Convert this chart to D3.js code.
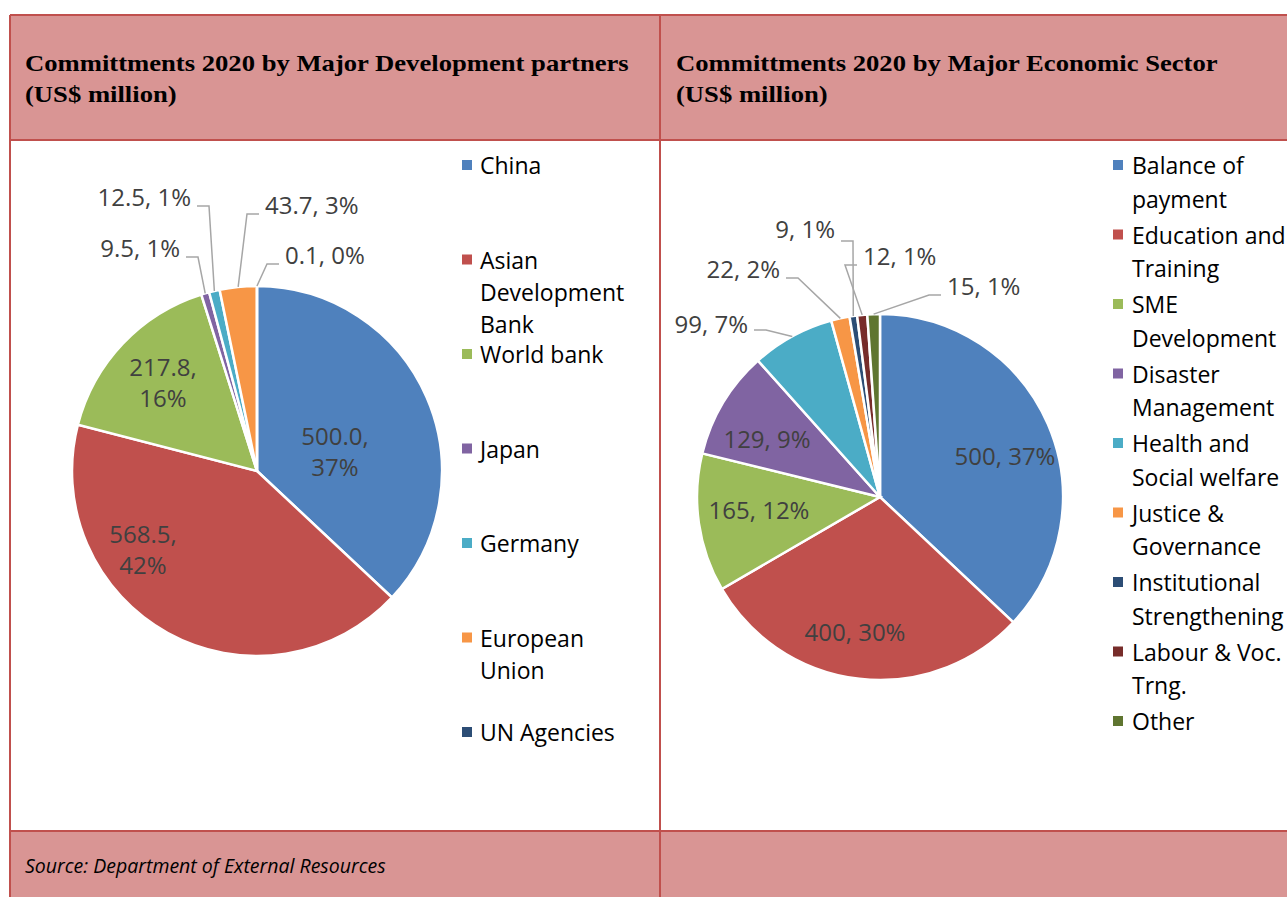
<!DOCTYPE html>
<html>
<head>
<meta charset="utf-8">
<script src="https://cdn.jsdelivr.net/npm/d3@7"></script>
<style>
  body { margin: 0; background: #fff; }
  svg { display: block; }
</style>
</head>
<body>
<svg id="chart"></svg>
<script>
// partners pie
var partners = ["China", "Asian Development Bank", "World bank", "Japan", "Germany", "European Union", "UN Agencies"]
var partnerValues = [500.0, 568.5, 217.8, 9.5, 12.5, 43.7, 0.1]
var partnerPct = ["37%", "42%", "16%", "1%", "1%", "3%", "0%"]
var partnerLegend = [["China"], ["Asian", "Development", "Bank"], ["World bank"], ["Japan"], ["Germany"], ["European", "Union"], ["UN Agencies"]]

// sector pie
var sectors = ["Balance of payment", "Education and Training", "SME Development", "Disaster Management",
  "Health and Social welfare", "Justice & Governance", "Institutional Strengthening", "Labour & Voc. Trng.", "Other"]
var sectorValues = [500, 400, 165, 129, 99, 22, 9, 12, 15]
var sectorPct = ["37%", "30%", "12%", "9%", "7%", "2%", "1%", "1%", "1%"]
var sectorLegend = [["Balance of", "payment"], ["Education and", "Training"], ["SME", "Development"], ["Disaster", "Management"],
  ["Health and", "Social welfare"], ["Justice &", "Governance"], ["Institutional", "Strengthening"], ["Labour & Voc.", "Trng."], ["Other"]]

var colors = ["#4F81BD", "#C0504D", "#9BBB59", "#8064A2", "#4BACC6", "#F79646", "#2C4D75", "#772C2A", "#5F7530"]

var width = 1287, height = 897
var border = "#C0504D", headFill = "#D99594"

var svg = d3.select("#chart").attr("width", width).attr("height", height)

// table background
svg.append("rect").attr("x", 10).attr("y", 15).attr("width", 1290).attr("height", 125).attr("fill", headFill)
svg.append("rect").attr("x", 10).attr("y", 831).attr("width", 1290).attr("height", 80).attr("fill", headFill)
var lines = [
  [10, 15, 1300, 15], [10, 140, 1300, 140], [10, 831, 1300, 831],
  [10, 15, 10, 900], [660, 15, 660, 900]
]
svg.append("g").selectAll("line").data(lines).enter().append("line")
  .attr("x1", d => d[0]).attr("y1", d => d[1]).attr("x2", d => d[2]).attr("y2", d => d[3])
  .attr("stroke", border).attr("stroke-width", 2)

// titles (Times is wider than the source font, so stretch a little)
function title(x, l1) {
  var t = svg.append("text")
    .attr("transform", "translate(" + x + ",71) scale(1.11,1)")
    .style("font-family", "'Liberation Serif', 'Times New Roman', serif")
    .style("font-weight", "bold").style("font-size", "24px").attr("fill", "#000")
  t.append("tspan").attr("x", 0).text(l1)
  t.append("tspan").attr("x", 0).attr("dy", 31).text("(US$ million)")
}
title(25, "Committments 2020 by Major Development partners")
title(676, "Committments 2020 by Major Economic Sector")

svg.append("text").attr("x", 25).attr("y", 873)
  .style("font-family", "'Open Sans', sans-serif").style("font-style", "italic").style("font-size", "19.5px")
  .attr("fill", "#000").text("Source: Department of External Resources")

var labelFont = "'Open Sans', sans-serif"

function drawPie(cfg) {
  var pie = d3.pie().sort(null).value(d => d)
  var arcs = pie(cfg.values)
  var arc = d3.arc().innerRadius(0).outerRadius(cfg.r)
  var g = svg.append("g").attr("transform", "translate(" + cfg.cx + "," + cfg.cy + ")")

  g.selectAll("path").data(arcs).enter().append("path")
    .attr("d", arc)
    .attr("fill", (d, i) => colors[i])
    .attr("stroke", "#fff").attr("stroke-width", 2.5)

  arcs.forEach(function(a, i) {
    var lab = cfg.labels[i]
    var txt = cfg.values[i].toFixed(cfg.digits)
    var t = g.append("text").attr("fill", "#404040")
      .style("font-family", labelFont).style("font-size", "24px")
    if (lab.inside) {
      t.attr("text-anchor", "middle")
      if (lab.wrap) {
        t.append("tspan").attr("x", lab.x).attr("y", lab.y - 7).text(txt + ",")
        t.append("tspan").attr("x", lab.x).attr("y", lab.y + 24).text(cfg.pct[i])
      } else {
        t.attr("x", lab.x).attr("y", lab.y + 8).text(txt + ", " + cfg.pct[i])
      }
    } else {
      t.attr("x", lab.x).attr("y", lab.y + 8).attr("text-anchor", lab.anchor).text(txt + ", " + cfg.pct[i])
      var mid = (a.startAngle + a.endAngle) / 2
      var sx = cfg.r * Math.sin(mid), sy = -cfg.r * Math.cos(mid)
      var dir = lab.anchor == "end" ? 1 : -1
      var ly = lab.y + (lab.ldy || 8)
      var ex = lab.x + dir * 6, bx = lab.x + dir * 18
      var pts = [[ex, ly], [bx, ly], [sx, sy]]
      g.append("path").attr("d", d3.line()(pts))
        .attr("fill", "none").attr("stroke", "#A6A6A6").attr("stroke-width", 1.5)
    }
  })

  var lg = svg.append("g")
  var row = 0
  cfg.legend.forEach(function(item, i) {
    var y0 = cfg.ly + i * cfg.lstep + (cfg.flow ? row * cfg.lline : 0)
    lg.append("rect").attr("x", cfg.lx).attr("y", y0 - 6).attr("width", 10).attr("height", 10)
      .attr("fill", colors[i])
    item.forEach(function(s, j) {
      lg.append("text").attr("x", cfg.lx + cfg.tx).attr("y", y0 + 8 + j * cfg.lline)
        .style("font-family", labelFont).style("font-size", "23px").attr("fill", "#000").text(s)
    })
    row += item.length - 1
  })
}

drawPie({
  cx: 257, cy: 471, r: 185, values: partnerValues, pct: partnerPct, digits: 1,
  labels: [
    {inside: true, wrap: true, x: 78, y: -19},
    {inside: true, wrap: true, x: -114, y: 79},
    {inside: true, wrap: true, x: -94, y: -88},
    {x: -77, y: -222, anchor: "end"},
    {x: -66, y: -273, anchor: "end"},
    {x: 8, y: -265, anchor: "start"},
    {x: 28, y: -215, anchor: "start"}
  ],
  legend: partnerLegend, lx: 462, tx: 18, ly: 166, lstep: 94.5, lline: 32, flow: false
})

drawPie({
  cx: 880, cy: 497, r: 183, values: sectorValues, pct: sectorPct, digits: 0,
  labels: [
    {inside: true, x: 125, y: -40},
    {inside: true, x: -25, y: 136},
    {inside: true, x: -121, y: 14},
    {inside: true, x: -113, y: -57},
    {x: -132, y: -172, anchor: "end", ldy: 5},
    {x: -100, y: -227, anchor: "end"},
    {x: -45, y: -267, anchor: "end", ldy: 11},
    {x: -17, y: -240, anchor: "start"},
    {x: 67, y: -210, anchor: "start"}
  ],
  legend: sectorLegend, lx: 1113, tx: 19, ly: 166, lstep: 36, lline: 33.5, flow: true
})
</script>
</body>
</html>
